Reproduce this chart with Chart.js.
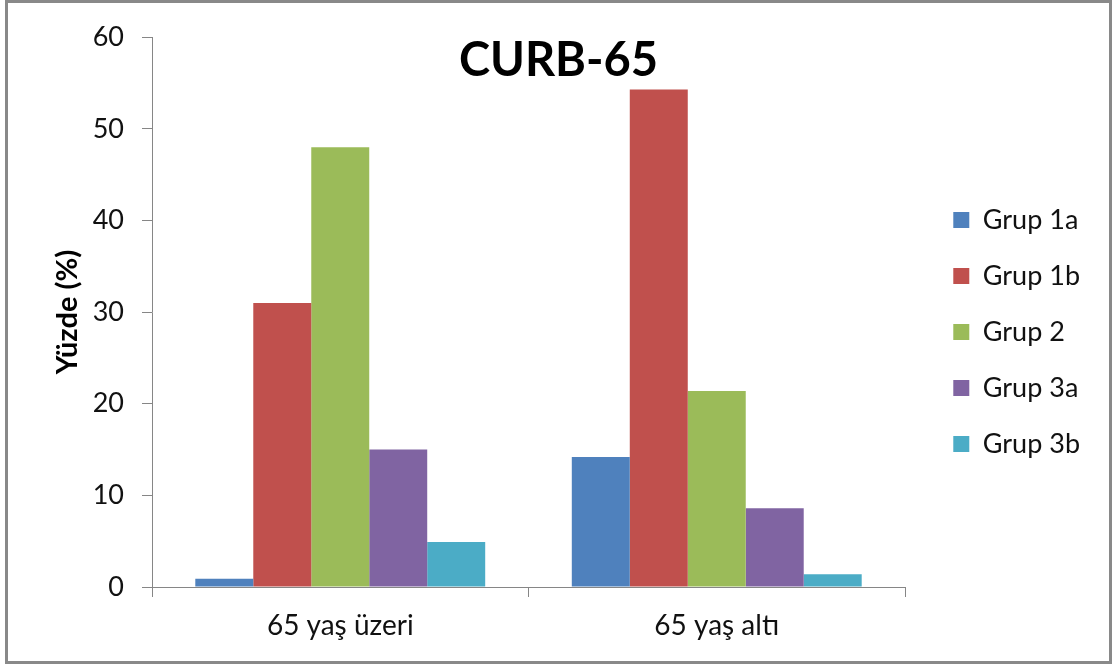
<!DOCTYPE html>
<html>
<head>
<meta charset="utf-8">
<script src="https://cdn.jsdelivr.net/npm/chart.js@4"></script>
<style>
  html, body { margin: 0; padding: 0; background: #fff; }
  #frame {
    position: absolute; left: 5px; top: 0;
    width: 1101px; height: 658px;
    border: 3px solid #898989;
    background: #fff;
  }
</style>
</head>
<body>
<div id="frame"><canvas id="curbChart"></canvas></div>
<script>
// values (percent)
const categories = ['65 yaş üzeri', '65 yaş altı'];
const grup1a = [0.9, 14.2];
const grup1b = [31.0, 54.3];
const grup2  = [48.0, 21.4];
const grup3a = [15.0, 8.6];
const grup3b = [4.9, 1.4];

const seriesNames  = ['Grup 1a', 'Grup 1b', 'Grup 2', 'Grup 3a', 'Grup 3b'];
const seriesValues = [grup1a, grup1b, grup2, grup3a, grup3b];
const seriesColors = ['#4F81BD', '#C0504D', '#9BBB59', '#8064A2', '#4BACC6'];

const AXIS = '#868686';
const TEXT = '#111';
const SIDE_PAD  = 19;   // same on both sides so the title stays centred
const PLOT_GAP  = 204;  // plot right edge -> canvas right edge
Chart.defaults.font.family = 'Lato, "Open Sans", sans-serif';

new Chart(document.getElementById('curbChart'), {
  type: 'bar',
  data: {
    labels: categories,
    datasets: seriesNames.map((name, i) => ({
      label: name,
      data: seriesValues[i],
      backgroundColor: seriesColors[i],
      borderWidth: 0,
      categoryPercentage: 0.77,
      barPercentage: 1,
    })),
  },
  options: {
    responsive: true,
    maintainAspectRatio: false,
    animation: false,
    layout: { padding: { top: 0, left: SIDE_PAD, bottom: 0, right: SIDE_PAD } },
    plugins: {
      title: {
        display: true,
        text: 'CURB-65',
        color: '#000',
        font: { size: 47, weight: 'bold', lineHeight: 1.2 },
        padding: { top: 28, bottom: -52 },
      },
      legend: {
        position: 'right',
        labels: {
          color: TEXT,
          font: { size: 27 },
          boxWidth: 16,
          boxHeight: 16,
          padding: 29,
        },
      },
      tooltip: { enabled: false },
    },
    scales: {
      x: {
        grid: { drawOnChartArea: false, color: AXIS, tickLength: 10, offset: true },
        border: { color: AXIS },
        ticks: { color: TEXT, font: { size: 28 }, padding: 12, maxRotation: 0 },
        afterFit: s => { s.height = 74; },
      },
      y: {
        min: 0, max: 60,
        grid: { drawOnChartArea: false, color: AXIS, tickLength: 10 },
        border: { color: AXIS },
        ticks: { stepSize: 10, color: TEXT, font: { size: 27 }, padding: 18 },
        title: {
          display: true, text: 'Yüzde (%)', color: '#000',
          font: { size: 29, weight: 'bold', lineHeight: 1.2 },
          padding: { top: 42 - SIDE_PAD, bottom: 0 },
        },
        afterFit: s => { s.width = 144 - SIDE_PAD; },
      },
      // empty spacer between plot and legend
      gap: {
        type: 'linear', position: 'right',
        grid: { display: false }, border: { display: false }, ticks: { display: false },
        afterFit: s => {
          const lw = s.chart.legend ? s.chart.legend.width : 0;
          s.width = Math.max(0, PLOT_GAP - SIDE_PAD - lw);
        },
      },
    },
  },
});
</script>
</body>
</html>
